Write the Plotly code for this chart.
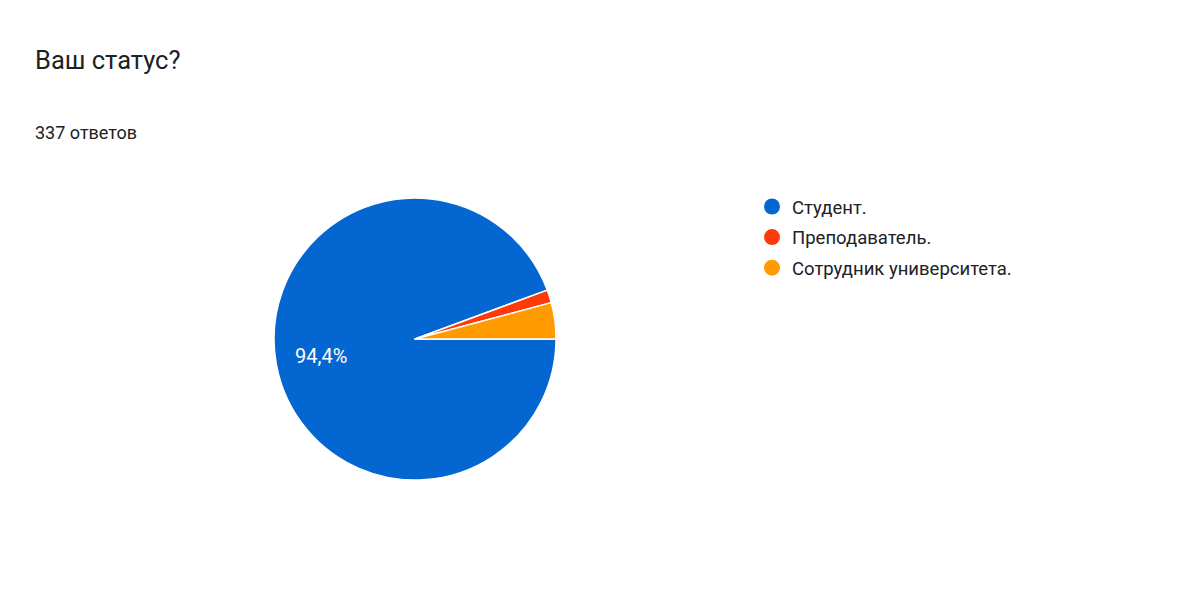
import math
import plotly.graph_objects as go

# ответы на вопрос "Ваш статус?"
kategorii = ["Студент.", "Преподаватель.", "Сотрудник университета."]
otvety = [318, 5, 14]
cveta = ["#0466D1", "#FF3A0A", "#FF9A00"]
vsego = sum(otvety)

W, H = 1200, 600
dom_x = [0.2217, 0.4567]
dom_y = [0.2133, 0.6833]

fig = go.Figure()
fig.add_trace(go.Pie(
    labels=kategorii,
    values=otvety,
    sort=False,
    direction="clockwise",
    rotation=90,
    marker=dict(colors=cveta, line=dict(color="white", width=1.5)),
    textinfo="none",
    domain=dict(x=dom_x, y=dom_y),
    showlegend=False,
    hoverinfo="label+value+percent",
))

# подпись процента для самого большого сектора (как в Google Forms)
dolya = otvety[0] / vsego
ugol = math.radians(dolya * 360 / 2)  # середина сектора, по часовой от 3 часов
cx = (dom_x[0] + dom_x[1]) / 2
cy = (dom_y[0] + dom_y[1]) / 2
r = (dom_x[1] - dom_x[0]) * W / 2 * 0.675
lx = cx + r * math.cos(ugol) / W
ly = cy - r * math.sin(ugol) / H
podpis = ("%.1f%%" % (dolya * 100)).replace(".", ",")

# легенда с круглыми маркерами
for i, (k, c) in enumerate(zip(kategorii, cveta)):
    fig.add_trace(go.Scatter(
        x=[None], y=[None], mode="markers", name=k,
        marker=dict(color=c, size=16, symbol="circle"),
        legendgroup="g%d" % i, showlegend=True,
    ))

fig.update_layout(
    width=W, height=H,
    margin=dict(l=0, r=0, t=0, b=0),
    paper_bgcolor="white", plot_bgcolor="white",
    font=dict(family="Roboto", color="#212121"),
    title=dict(text="Ваш статус?", x=27/W, xanchor="left", xref="container",
               y=1-52/H, yanchor="middle", yref="container",
               font=dict(family="Roboto", size=25.5, color="#202124")),
    annotations=[
        dict(text="%d ответов" % vsego, x=25/W, y=1-124/H,
             xref="paper", yref="paper", xanchor="left", yanchor="middle",
             showarrow=False, font=dict(family="Roboto", size=18, color="#202124")),
        dict(text=podpis, x=lx, y=ly, xref="paper", yref="paper",
             xanchor="center", yanchor="middle", showarrow=False,
             font=dict(family="Roboto", size=20, color="white")),
    ],
    xaxis=dict(visible=False), yaxis=dict(visible=False),
    legend=dict(x=744/W, y=1-180/H, xanchor="left", yanchor="top",
                font=dict(family="Roboto", size=18.5, color="#202124"),
                tracegroupgap=3.5, itemclick=False),
)

fig.write_html("out.html")
